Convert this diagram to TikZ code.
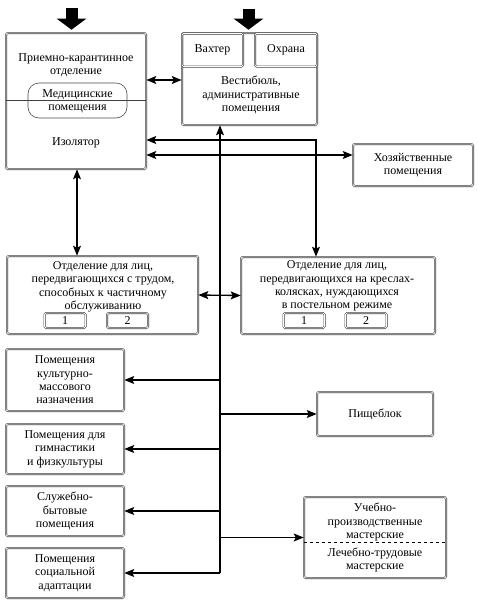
\documentclass[tikz,border=0pt]{standalone}
\usepackage{fontspec}
\setmainfont{Liberation Serif}
\usetikzlibrary{arrows.meta,calc}
\begin{document}
\begin{tikzpicture}[x=1pt,y=-1pt,
  txt/.style={align=center,inner sep=0pt,font=\fontsize{12}{13.4}\selectfont},
  box/.style={txt,draw=black!75,line width=0.6pt,double=white,double distance=0.8pt,rounded corners=1.5pt},
  numbox/.style={box,minimum width=41pt,minimum height=15pt},
  medbox/.style={draw=black!70,line width=0.6pt,rounded corners=11pt},
  arr/.style={line width=1.3pt,-{Stealth[length=10pt,width=8pt,inset=2pt]}},
  dblarr/.style={line width=1.3pt,{Stealth[length=10pt,width=8pt,inset=2pt]}-{Stealth[length=10pt,width=8pt,inset=2pt]}},
  bigarrow/.style={line width=12pt,-{Triangle[length=11pt,width=29pt]}}
]
\useasboundingbox (0,0) rectangle (478,603);

% left block
\node[box,minimum width=140pt,minimum height=136pt] (L) at (76,101) {};
\draw[draw=black!75,line width=0.8pt] (L.west |- 0,100.5) -- (L.east |- 0,100.5);
\node[txt] (Lt1) at (76,65.5) {Приемно-карантинное\\отделение};
\node[medbox,minimum width=99pt,minimum height=35pt] (M) at (77.5,100.5) {};
\node[txt] (Mt) at (77.5,101.5) {Медицинские\\помещения};
\node[txt] (Lt2) at (76,143) {Изолятор};

% vestibule
\node[box,minimum width=135pt,minimum height=92pt] (V) at (249.5,79) {};
\node[box,minimum width=61pt,minimum height=33pt] (W) at (212.5,50) {Вахтер};
\node[box,minimum width=62pt,minimum height=33pt] (O) at (286,50) {Охрана};
\node[txt] (Vt) at (251,95) {Вестибюль,\\административные\\помещения};

% household
\node[box,minimum width=120pt,minimum height=42pt] (H) at (413,165) {Хозяйственные\\помещения};

% departments
\node[box,minimum width=191pt,minimum height=78pt] (D1) at (102.5,295) {};
\node[txt] (D1t) at (103,287) {Отделение для лиц,\\передвигающихся с трудом,\\способных к частичному\\обслуживанию};
\node[numbox] (D1a) at (65,320.5) {1};
\node[numbox] (D1b) at (127.5,320.5) {2};

\node[box,minimum width=194pt,minimum height=77pt] (D2) at (338,295.5) {};
\node[txt] (D2t) at (337,286) {Отделение для лиц,\\передвигающихся на креслах-\\колясках, нуждающихся\\в постельном режиме};
\node[numbox] (D2a) at (304,320.5) {1};
\node[numbox] (D2b) at (366,320.5) {2};

% lower left column
\node[box,minimum width=118pt,minimum height=62pt] (K) at (65,380) {Помещения\\культурно-\\массового\\назначения};
\node[box,minimum width=118pt,minimum height=50pt] (G) at (65,449) {Помещения для\\гимнастики\\и физкультуры};
\node[box,minimum width=118pt,minimum height=50pt] (S) at (65,511) {Служебно-\\бытовые\\помещения};
\node[box,minimum width=118pt,minimum height=50pt] (A) at (65,573) {Помещения\\социальной\\адаптации};

% lower right
\node[box,minimum width=116pt,minimum height=44pt] (P) at (375,414) {Пищеблок};
\node[box,minimum width=142pt,minimum height=81pt] (U) at (375,537.5) {};
\draw[dashed,line width=0.7pt] (U.west |- 0,542) -- (U.east |- 0,542);
\node[txt] (Ut1) at (375,522) {Учебно-\\производственные\\мастерские};
\node[txt] (Ut2) at (375,560) {Лечебно-трудовые\\мастерские};

% entrance arrows
\coordinate (inL) at (71.5,8);
\coordinate (inV) at (248.5,9);
\draw[bigarrow,shorten >=3pt] (inL) -- (L.north -| inL);
\draw[bigarrow,shorten >=3pt] (inV) -- (V.north -| inV);

% connectors
\draw[dblarr] (L.east |- 0,80) -- (V.west |- 0,80);
\coordinate (tb) at (220,573);
\coordinate (c140) at (316,140);
\draw[arr] (tb) -- (V.south -| tb);
\draw[dblarr] (L.east |- c140) -- (c140) -- (D2.north -| c140);
\draw[dblarr] (L.east |- 0,155) -- (H.west |- 0,155);
\draw[dblarr] (L.south -| 77,0) -- (D1.north -| 77,0);
\draw[dblarr] (D1.east) -- (D2.west);
\draw[arr] (tb |- K.east) -- (K.east);
\draw[arr] (tb |- P.west) -- (P.west);
\draw[arr] (tb |- G.east) -- (G.east);
\draw[arr] (tb |- S.east) -- (S.east);
\draw[arr] (tb |- U.west) -- (U.west);
\draw[arr] (tb |- A.east) -- (A.east);
\end{tikzpicture}
\end{document}
